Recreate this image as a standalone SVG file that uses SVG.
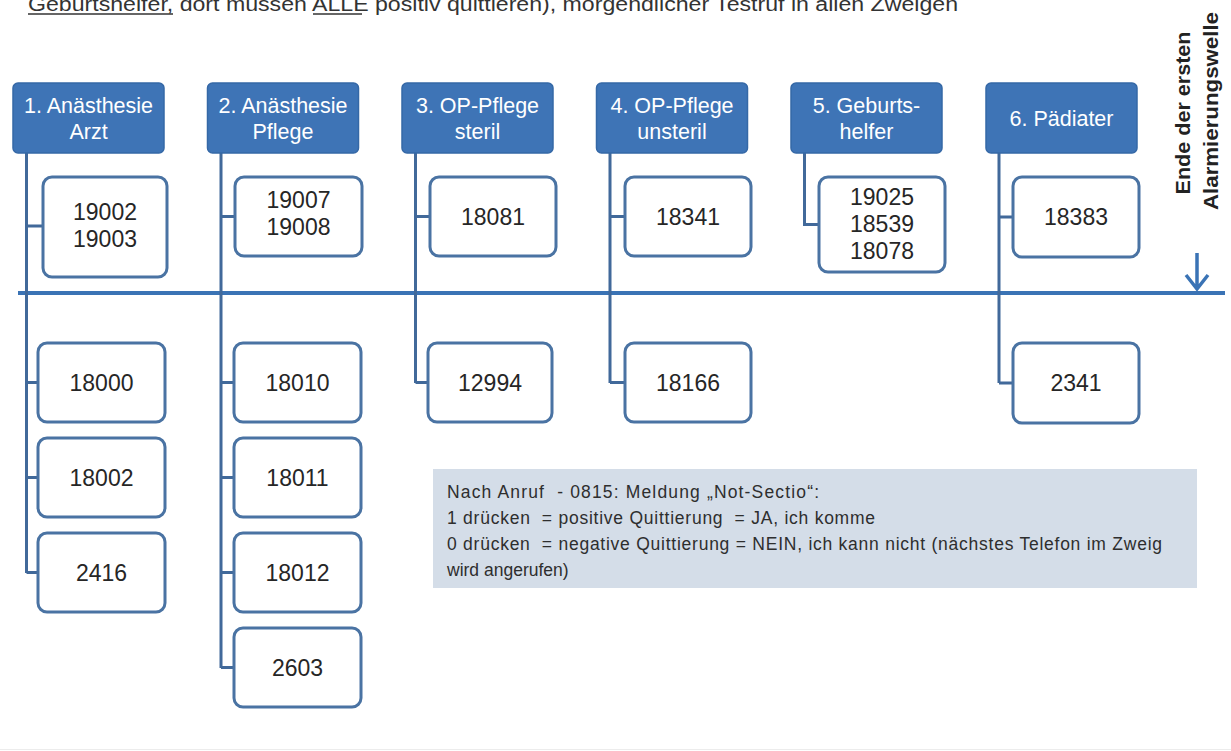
<svg xmlns="http://www.w3.org/2000/svg" width="1231" height="751" viewBox="0 0 1231 751">
<defs>
<style>
.hdr{fill:#3e74b6;stroke:#3568a6;stroke-width:1.5}
.ht{font-family:"Liberation Sans",Arial,sans-serif;font-size:21.5px;fill:#ffffff;text-anchor:middle}
.box{fill:#ffffff;stroke:#4a73a3;stroke-width:3}
.nt{font-family:"Liberation Sans",Arial,sans-serif;font-size:23px;fill:#262626;text-anchor:middle}
.con{fill:none;stroke:#41699a;stroke-width:3}
.tl{fill:none;stroke:#3a73b5;stroke-width:4}
.note{font-family:"Liberation Sans",Arial,sans-serif;font-size:17.5px;fill:#2e2e2e;white-space:pre}
.vt{font-family:"Liberation Sans",Arial,sans-serif;font-size:21px;font-weight:bold;fill:#222222;text-anchor:middle}
</style>
</defs>
<rect x="0" y="0" width="1231" height="751" fill="#ffffff"/>
<line x1="0" y1="749.5" x2="1231" y2="749.5" stroke="#ececec" stroke-width="1"/>

<g id="title">
<text x="28" y="11" font-family="Liberation Sans,Arial,sans-serif" font-size="20" fill="#333333" textLength="930" lengthAdjust="spacingAndGlyphs">Geburtshelfer, dort müssen ALLE positiv quittieren), morgendlicher Testruf in allen Zweigen</text>
<line x1="28" y1="14" x2="173" y2="14" stroke="#333333" stroke-width="1.5"/>
<line x1="313" y1="14" x2="362" y2="14" stroke="#333333" stroke-width="1.5"/>
</g>

<g id="connectors">
<line class="tl" x1="18" y1="293" x2="1225" y2="293"/>
<path class="con" d="M26.5,153 V573 M26.5,226 H43 M26.5,382.5 H38 M26.5,477.5 H38 M26.5,572.5 H38"/>
<path class="con" d="M221,153 V668 M221,216.5 H235 M221,382.5 H234 M221,477.5 H234 M221,572.5 H234 M221,667.5 H234"/>
<path class="con" d="M415.5,153 V383 M415.5,216.5 H430 M415.5,382.5 H428"/>
<path class="con" d="M610,153 V383 M610,216.5 H625 M610,382.5 H625"/>
<path class="con" d="M804.5,153 V224.5 H819"/>
<path class="con" d="M999,153 V383 M999,217 H1013 M999,383 H1013"/>
<path d="M1197,253 V288 M1186,275 L1197,289 L1208,275" fill="none" stroke="#3a73b5" stroke-width="3.5"/>
</g>

<g id="h1"><rect class="hdr" x="13" y="83" width="151" height="70" rx="5"/><text class="ht" x="88.5" y="113">1. Anästhesie</text><text class="ht" x="88.5" y="139">Arzt</text></g>
<g id="h2"><rect class="hdr" x="207.5" y="83" width="151" height="70" rx="5"/><text class="ht" x="283" y="113">2. Anästhesie</text><text class="ht" x="283" y="139">Pflege</text></g>
<g id="h3"><rect class="hdr" x="402" y="83" width="151" height="70" rx="5"/><text class="ht" x="477.5" y="113">3. OP-Pflege</text><text class="ht" x="477.5" y="139">steril</text></g>
<g id="h4"><rect class="hdr" x="596.5" y="83" width="151" height="70" rx="5"/><text class="ht" x="672" y="113">4. OP-Pflege</text><text class="ht" x="672" y="139">unsteril</text></g>
<g id="h5"><rect class="hdr" x="791" y="83" width="151" height="70" rx="5"/><text class="ht" x="866.5" y="113">5. Geburts-</text><text class="ht" x="866.5" y="139">helfer</text></g>
<g id="h6"><rect class="hdr" x="986" y="83" width="151" height="70" rx="5"/><text class="ht" x="1061.5" y="126">6. Pädiater</text></g>

<g id="b1a"><rect class="box" x="43" y="177" width="124" height="100" rx="9"/><text class="nt" x="105" y="220">19002</text><text class="nt" x="105" y="247">19003</text></g>
<g id="b2a"><rect class="box" x="235" y="177" width="127" height="79" rx="9"/><text class="nt" x="298.5" y="208">19007</text><text class="nt" x="298.5" y="235">19008</text></g>
<g id="b3a"><rect class="box" x="430" y="177" width="126" height="79" rx="9"/><text class="nt" x="493" y="224.5">18081</text></g>
<g id="b4a"><rect class="box" x="625" y="177" width="126" height="79" rx="9"/><text class="nt" x="688" y="224.5">18341</text></g>
<g id="b5a"><rect class="box" x="819" y="177" width="126" height="95" rx="9"/><text class="nt" x="882" y="205">19025</text><text class="nt" x="882" y="232">18539</text><text class="nt" x="882" y="259">18078</text></g>
<g id="b6a"><rect class="box" x="1013" y="177" width="126" height="80" rx="9"/><text class="nt" x="1076" y="225">18383</text></g>

<g id="b1b"><rect class="box" x="38" y="343" width="127" height="79" rx="9"/><text class="nt" x="101.5" y="391">18000</text></g>
<g id="b1c"><rect class="box" x="38" y="438" width="127" height="79" rx="9"/><text class="nt" x="101.5" y="486">18002</text></g>
<g id="b1d"><rect class="box" x="38" y="533" width="127" height="79" rx="9"/><text class="nt" x="101.5" y="581">2416</text></g>
<g id="b2b"><rect class="box" x="234" y="343" width="127" height="79" rx="9"/><text class="nt" x="297.5" y="391">18010</text></g>
<g id="b2c"><rect class="box" x="234" y="438" width="127" height="79" rx="9"/><text class="nt" x="297.5" y="486">18011</text></g>
<g id="b2d"><rect class="box" x="234" y="533" width="127" height="79" rx="9"/><text class="nt" x="297.5" y="581">18012</text></g>
<g id="b2e"><rect class="box" x="234" y="628" width="127" height="79" rx="9"/><text class="nt" x="297.5" y="676">2603</text></g>
<g id="b3b"><rect class="box" x="428" y="343" width="124" height="79" rx="9"/><text class="nt" x="490" y="391">12994</text></g>
<g id="b4b"><rect class="box" x="625" y="343" width="126" height="79" rx="9"/><text class="nt" x="688" y="391">18166</text></g>
<g id="b6b"><rect class="box" x="1013" y="343" width="126" height="80" rx="9"/><text class="nt" x="1076" y="391">2341</text></g>

<g id="note">
<rect x="433" y="469" width="764" height="119" fill="#d4dde8"/>
<text class="note" x="447" y="498" textLength="372" lengthAdjust="spacing">Nach Anruf  - 0815: Meldung „Not-Sectio“:</text>
<text class="note" x="447" y="524" textLength="428" lengthAdjust="spacing">1 drücken  = positive Quittierung  = JA, ich komme</text>
<text class="note" x="447" y="550" textLength="715" lengthAdjust="spacing">0 drücken  = negative Quittierung = NEIN, ich kann nicht (nächstes Telefon im Zweig</text>
<text class="note" x="447" y="576">wird angerufen)</text>
</g>

<g id="label">
<text class="vt" transform="translate(1190,113) rotate(-90)" textLength="163" lengthAdjust="spacingAndGlyphs">Ende der ersten</text>
<text class="vt" transform="translate(1218,111) rotate(-90)" textLength="198" lengthAdjust="spacingAndGlyphs">Alarmierungswelle</text>
</g>
</svg>
